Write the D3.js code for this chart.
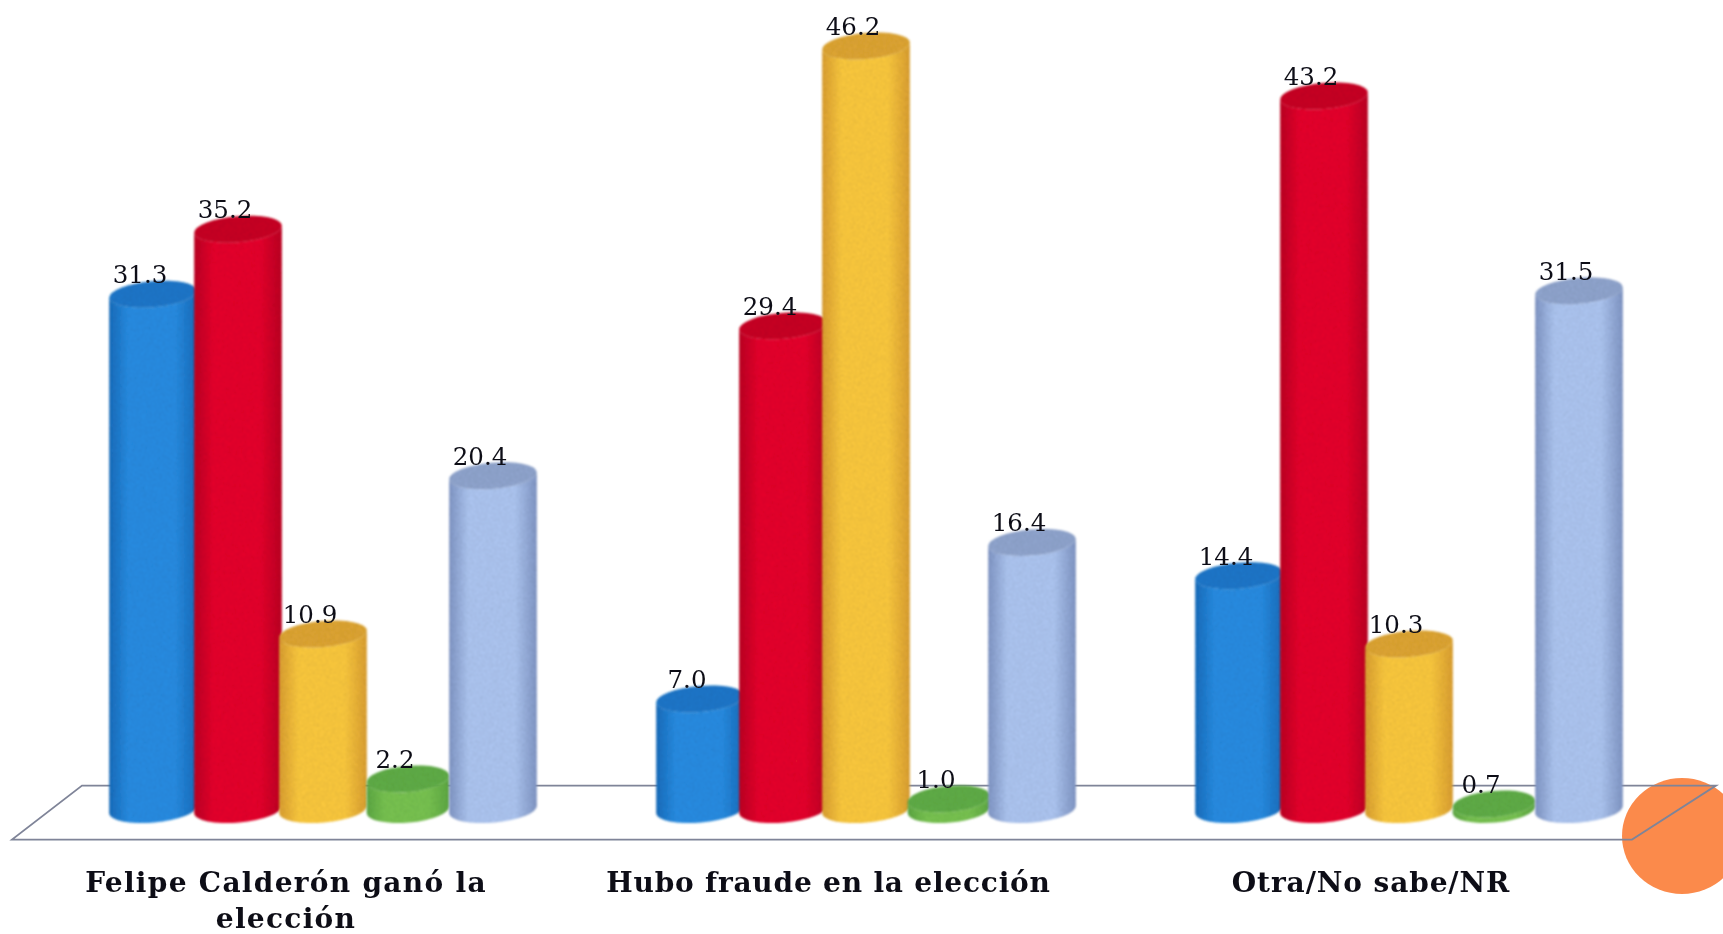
<!DOCTYPE html>
<html><head><meta charset="utf-8">
<script src="https://cdn.jsdelivr.net/npm/d3@7/dist/d3.min.js"></script>
<style>html,body{margin:0;padding:0;background:#fff;overflow:hidden}svg{display:block}</style>
</head><body><svg id="c" width="1723" height="934"></svg>
<script>
const categories = ["Felipe Calderón ganó la elección", "Hubo fraude en la elección", "Otra/No sabe/NR"];
const seriesNames = ["A", "B", "C", "D", "E"];
const seriesA = [31.3, 7.0, 14.4];
const seriesB = [35.2, 29.4, 43.2];
const seriesC = [10.9, 46.2, 10.3];
const seriesD = [2.2, 1.0, 0.7];
const seriesE = [20.4, 16.4, 31.5];
const seriesValues = [seriesA, seriesB, seriesC, seriesD, seriesE];
const edgeColors = ["#1d6fc0", "#c00b26", "#dfa233", "#5fab45", "#8399c9"];
const midColors = ["#2a8fe6", "#ea0c2e", "#ffcc40", "#7ac653", "#b0c9f5"];
const topColors = ["#2079cd", "#cc0c28", "#e2a836", "#62b048", "#93a8d2"];
const radii = [44, 44, 44, 41.5, 44];
const groupSpans = [170, 166, 170];
const labelSpacing = [1.3, 0.8, 0.9];

const svg = d3.select("#c");
const defs = svg.append("defs");
const soft = defs.append("filter").attr("id","soft").attr("x","-5%").attr("y","-5%").attr("width","110%").attr("height","110%");
soft.append("feGaussianBlur").attr("stdDeviation",0.55);
const tex = defs.append("filter").attr("id","tex").attr("x","-5%").attr("y","-5%").attr("width","110%").attr("height","110%");
tex.append("feTurbulence").attr("type","fractalNoise").attr("baseFrequency",0.7).attr("numOctaves",2).attr("seed",4).attr("result","n");
tex.append("feColorMatrix").attr("in","n").attr("type","matrix").attr("values","0 0 0 0 0  0 0 0 0 0  0 0 0 0 0  0.6 0 0 0 -0.2").attr("result","d");
tex.append("feComposite").attr("in","d").attr("in2","SourceAlpha").attr("operator","in").attr("result","dc");
tex.append("feMerge").call(m=>{m.append("feMergeNode").attr("in","SourceGraphic");m.append("feMergeNode").attr("in","dc");});
tex.append("feGaussianBlur").attr("stdDeviation",0.9);

seriesNames.forEach((s,i)=>{
  const g = defs.append("linearGradient").attr("id","g"+i).attr("x1",0).attr("x2",1).attr("y1",0).attr("y2",0);
  g.append("stop").attr("offset","0%").attr("stop-color",edgeColors[i]);
  g.append("stop").attr("offset","22%").attr("stop-color",midColors[i]);
  g.append("stop").attr("offset","75%").attr("stop-color",midColors[i]);
  g.append("stop").attr("offset","100%").attr("stop-color",edgeColors[i]);
});

const x0 = d3.scalePoint().domain(categories).range([323, 1409]);
const x1 = categories.map((c,i)=>d3.scalePoint().domain(seriesNames).range([-groupSpans[i], groupSpans[i]]));
const y = d3.scaleLinear().domain([0, 46.2]).range([815.6, 46]);
const ry = 13, tilt = 5, baseOffset = 6;
const th = tilt*Math.PI/180;

const floorX = d3.scaleLinear().domain([0,1]).range([82,1716]);
const floorFrontX = d3.scaleLinear().domain([0,1]).range([12,1632]);
const floorBack = y(0) - 30, floorFront = y(0) + 24;

svg.append("ellipse").attr("cx",1682).attr("cy",836).attr("rx",60).attr("ry",58).attr("fill","#fb8a4b").attr("filter","url(#soft)");

const bars = svg.append("g");
const floorPath = d3.path();
floorPath.moveTo(floorX(1),floorBack);floorPath.lineTo(floorX(0),floorBack);
floorPath.lineTo(floorFrontX(0),floorFront);floorPath.lineTo(floorFrontX(1),floorFront);floorPath.closePath();
svg.insert("path","g").attr("d",floorPath.toString()).attr("fill","none").attr("stroke","#7f8498").attr("stroke-width",1.8).attr("filter","url(#soft)");

categories.forEach((c,ci)=>{
  seriesNames.forEach((s,si)=>{
    const v = seriesValues[si][ci];
    const rx = radii[si];
    const cx = x0(c) + x1[ci](s);
    const yt = y(v), yb = y(0) - baseOffset;
    const dx = rx*Math.cos(th), dy = rx*Math.sin(th);
    const body = `M${cx-dx},${yt+dy} L${cx-dx},${yb+dy} A${rx},${ry} ${-tilt} 0 0 ${cx+dx},${yb-dy} L${cx+dx},${yt-dy} A${rx},${ry} ${-tilt} 0 1 ${cx-dx},${yt+dy} Z`;
    const gr = bars.append("g").attr("filter","url(#tex)");
    gr.append("path").attr("d",body).attr("fill",`url(#g${si})`);
    gr.append("ellipse").attr("cx",cx).attr("cy",yt).attr("rx",rx).attr("ry",ry)
      .attr("transform",`rotate(${-tilt} ${cx} ${yt})`).attr("fill",topColors[si]);
  });
});

const labels = svg.append("g").attr("filter","url(#soft)").attr("fill","#101018");
categories.forEach((c,ci)=>{
  seriesNames.forEach((s,si)=>{
    const v = seriesValues[si][ci];
    const cx = x0(c) + x1[ci](s);
    labels.append("text").attr("x",cx-13).attr("y",y(v)-ry+2).attr("text-anchor","middle")
      .attr("font-family","'DejaVu Serif'").attr("font-size",24.5).text(v.toFixed(1));
  });
});

const catCenters = d3.scalePoint().domain(categories).range([286,1371]);
const catLines = [["Felipe Calderón ganó la","elección"],["Hubo fraude en la elección"],["Otra/No sabe/NR"]];
categories.forEach((c,ci)=>{
  catLines[ci].forEach((l,li)=>{
    labels.append("text").attr("x",catCenters(c)).attr("y",y(0)+76+li*36).attr("text-anchor","middle")
      .attr("font-family","'DejaVu Serif'").attr("font-weight","bold").attr("font-size",28).attr("letter-spacing",labelSpacing[ci]).text(l);
  });
});
</script></body></html>
